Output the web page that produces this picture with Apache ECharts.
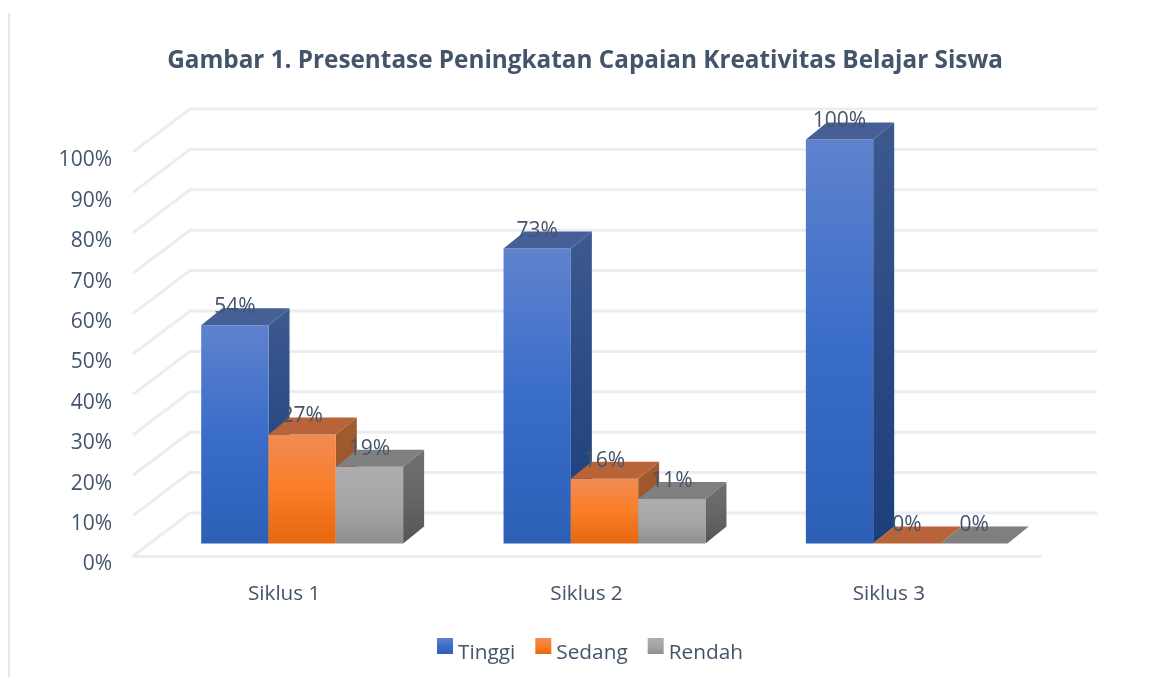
<!DOCTYPE html>
<html>
<head>
<meta charset="utf-8">
<title>Gambar 1</title>
<script src="https://cdn.jsdelivr.net/npm/echarts@6/dist/echarts.min.js"></script>
<style>
html, body { margin: 0; padding: 0; background: #fff; }
#chart { width: 1149px; height: 677px; }
</style>
</head>
<body>
<div id="chart"></div>
<script>
// data
var categories = ['Siklus 1', 'Siklus 2', 'Siklus 3'];
var tinggi = [54, 73, 100];
var sedang = [27, 16, 0];
var rendah = [19, 11, 0];
var valueTicks = [0, 10, 20, 30, 40, 50, 60, 70, 80, 90, 100];

var textColor = '#44546a';
var gridColor = '#ebedf3';
var fontName = '"Open Sans", sans-serif';

// depth of the wall behind the bars
var wallDx = 57;
var wallDy = -43;
// how far the bar fronts sit from the floor's front edge
var floorDx = 18;
var floorDy = -12.5;
// size of one bar
var barW = 67.3;
var barDx = 21;
var barDy = -17;

function vGrad(stops) {
    return {
        type: 'linear', x: 0, y: 0, x2: 0, y2: 1,
        colorStops: stops.map(function(s, i) {
            return { offset: i / (stops.length - 1), color: s };
        })
    };
}

// 绘制一根 3D 柱子
function barRenderer(slot, look) {
    return function(params, api) {
        var p = api.coord([api.value(0), api.value(1)]);
        var x0 = p[0] + floorDx + (slot - 1.5) * barW;
        var x1 = x0 + barW;
        var top = p[1] + floorDy;
        var bottom = api.coord([0, 0])[1] + floorDy;
        var kids = [];
        if (bottom - top > 0.5) {
            kids.push({
                type: 'polygon',
                shape: { points: [[x1, top], [x1 + barDx, top + barDy], [x1 + barDx, bottom + barDy], [x1, bottom]] },
                style: { fill: vGrad(look.side) }
            });
            kids.push({
                type: 'rect',
                shape: { x: x0, y: top, width: barW, height: bottom - top },
                style: { fill: vGrad(look.front) }
            });
        }
        kids.push({
            type: 'polygon',
            shape: { points: [[x0, top], [x0 + barDx, top + barDy], [x1 + barDx, top + barDy], [x1, top]] },
            style: { fill: look.top }
        });
        kids.push({
            type: 'text',
            style: {
                text: api.value(1) + '%',
                x: (x0 + x1) / 2,
                y: top - 18,
                align: 'center',
                verticalAlign: 'middle',
                fill: textColor,
                font: '21px ' + fontName
            }
        });
        return { type: 'group', children: kids };
    };
}

function wallRenderer(params, api) {
    var c = params.coordSys;
    var y = api.coord([0, api.value(0)])[1];
    var left = c.x;
    var right = c.x + c.width + wallDx;
    return {
        type: 'polyline',
        shape: { points: [[left, y], [left + wallDx, y + wallDy], [right, y + wallDy]] },
        style: { stroke: gridColor, lineWidth: 3, fill: null }
    };
}

function makeBars(name, values, slot, look) {
    return {
        name: name,
        type: 'custom',
        itemStyle: { color: vGrad(look.front) },
        renderItem: barRenderer(slot, look),
        encode: { x: 0, y: 1 },
        data: values.map(function(v, i) { return [i, v]; }),
        z: 3 + slot
    };
}

var chart = echarts.init(document.getElementById('chart'), null, { renderer: 'canvas' });
chart.setOption({
    animation: false,
    backgroundColor: '#fff',
    textStyle: { fontFamily: fontName },
    title: {
        text: 'Gambar 1. Presentase Peningkatan Capaian Kreativitas Belajar Siswa',
        left: 580,
        top: 44,
        textAlign: 'center',
        textStyle: { color: textColor, fontSize: 24.3, fontWeight: 'bold', fontFamily: fontName }
    },
    legend: {
        data: ['Tinggi', 'Sedang', 'Rendah'],
        left: 432,
        top: 633,
        icon: 'rect',
        itemWidth: 16,
        itemHeight: 16,
        itemGap: 20,
        formatter: '{t|{name}}',
        textStyle: {
            color: textColor,
            fontSize: 20.8,
            fontFamily: fontName,
            rich: { t: { color: textColor, fontSize: 20.8, fontFamily: fontName, padding: [15, 0, 0, 0] } }
        }
    },
    grid: { left: 133, top: 152, width: 907, height: 404 },
    graphic: [{
        type: 'line',
        silent: true,
        shape: { x1: 9, y1: 13, x2: 9, y2: 677 },
        style: { stroke: '#e4e7ed', lineWidth: 2 }
    }],
    xAxis: {
        type: 'category',
        data: categories,
        axisTick: { show: false },
        axisLine: { lineStyle: { color: gridColor, width: 3 } },
        axisLabel: { color: textColor, fontSize: 20.7, margin: 28, fontFamily: fontName }
    },
    yAxis: {
        type: 'value',
        min: 0,
        max: 100,
        interval: 10,
        axisLine: { show: false },
        axisTick: { show: false },
        splitLine: { show: false },
        axisLabel: {
            formatter: '{value}%',
            color: textColor,
            fontSize: 21,
            margin: 21,
            verticalAlign: 'top',
            lineHeight: 17,
            fontFamily: fontName
        }
    },
    series: [
        {
            type: 'custom',
            silent: true,
            renderItem: wallRenderer,
            encode: { y: 0 },
            data: valueTicks.map(function(v) { return [v]; }),
            z: 1
        },
        makeBars('Tinggi', tinggi, 0, {
            front: ['#5f82cd', '#3a6dc9', '#2c5fb5'],
            side: ['#3d5a8f', '#2a4a85', '#1d3f7a'],
            top: '#465f96'
        }),
        makeBars('Sedang', sedang, 1, {
            front: ['#f18b53', '#fa7d28', '#e5680f'],
            side: ['#a25c33', '#9c5526', '#95501c'],
            top: '#b8633a'
        }),
        makeBars('Rendah', rendah, 2, {
            front: ['#adadad', '#a6a6a6', '#8f8f8f'],
            side: ['#707070', '#666666', '#555555'],
            top: '#7f7f7f'
        })
    ]
});
</script>
</body>
</html>
